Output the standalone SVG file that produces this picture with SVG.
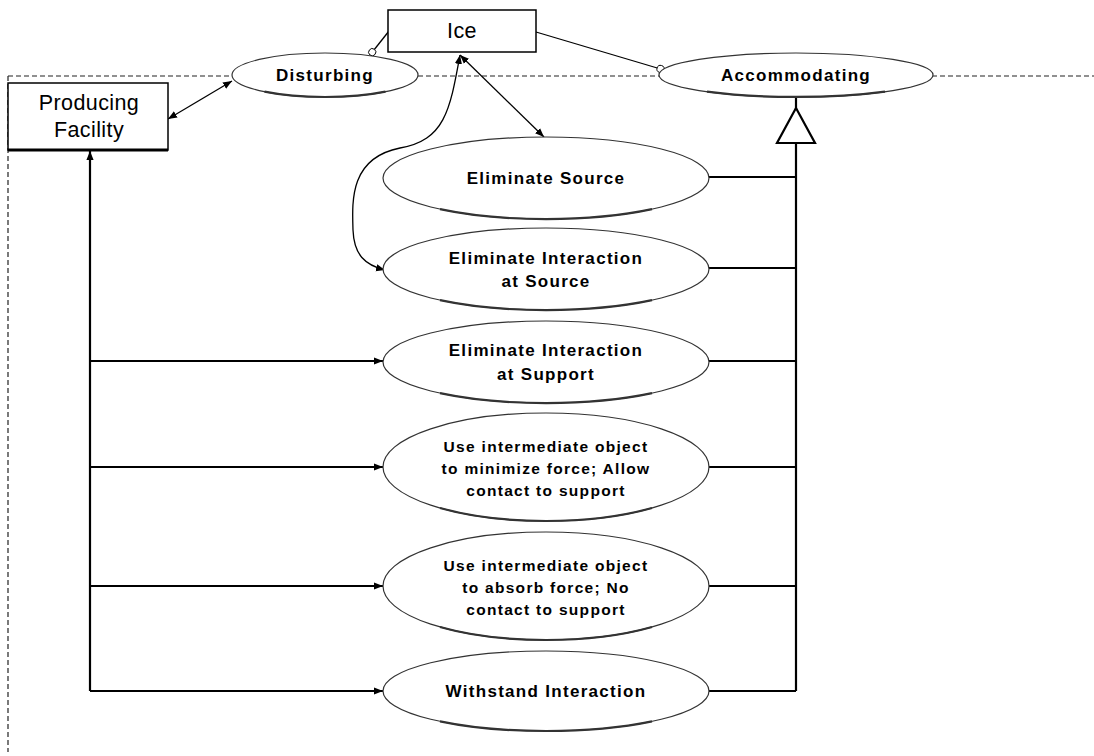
<svg xmlns="http://www.w3.org/2000/svg" width="1094" height="756" viewBox="0 0 1094 756">
  <style>
    .box { fill: #fff; stroke: #000; stroke-width: 1.5; }
    .uc { fill: #fff; stroke: #333; stroke-width: 1.2; }
    .shade { fill: none; stroke: #333; stroke-width: 2.2; }
    .t { font-family: "Liberation Sans", Arial, sans-serif; fill: #000; text-anchor: middle; }
    .big { font-size: 21.5px; letter-spacing: 0.4px; }
    .mid { font-size: 17px; font-weight: bold; letter-spacing: 1.3px; }
    .sm { font-size: 15.5px; font-weight: bold; letter-spacing: 1.3px; }
    .dash { fill: none; stroke: #222; stroke-width: 1.2; stroke-dasharray: 5 3; }
    .thin { fill: none; stroke: #000; stroke-width: 1.3; }
    .thick { fill: none; stroke: #000; stroke-width: 2.2; }
  </style>
  <defs>
    <marker id="ah" viewBox="0 0 10 10" refX="10" refY="5" markerWidth="9" markerHeight="9" markerUnits="userSpaceOnUse" orient="auto-start-reverse">
      <path d="M0,1 L10,5 L0,9 Z" fill="#000"/>
    </marker>
    <marker id="ball" viewBox="0 0 10 10" refX="9" refY="5" markerWidth="9" markerHeight="9" markerUnits="userSpaceOnUse" orient="auto">
      <circle cx="5" cy="5" r="4" fill="#fff" stroke="#000" stroke-width="1"/>
    </marker>
  </defs>

  <!-- system boundary -->
  <g id="boundary">
    <path class="dash" d="M8,76 L232,76 M418,76 L659,76 M932,76 L1094,76 M8,76 L8,752"/>
  </g>

  <!-- connectors -->
  <g id="connectors">
    <path class="thin" d="M168,119 L232,81" marker-start="url(#ah)" marker-end="url(#ah)"/>
    <path class="thin" d="M389,31 L370,55" marker-end="url(#ball)"/>
    <path class="thin" d="M536,32 L664,70" marker-end="url(#ball)"/>
    <path class="thin" d="M460,55 L544,137" marker-start="url(#ah)" marker-end="url(#ah)"/>
    <path class="thin" d="M460,55 C450,110 445,140 400,148 C350,158 352,200 353,230 C354,255 365,265 385,270" marker-start="url(#ah)" marker-end="url(#ah)"/>
    <!-- generalization to Accommodating -->
    <path class="thick" d="M796,97 L796,110"/>
    <path d="M796,108 L777,143 L815,143 Z" fill="#fff" stroke="#000" stroke-width="2.2"/>
    <path class="thick" d="M796,143 L796,691"/>
    <path class="thick" d="M708,177 L796,177 M708,268 L796,268 M708,361 L796,361 M708,467 L796,467 M708,586 L796,586 M708,691 L796,691"/>
    <!-- Producing Facility links -->
    <path class="thick" d="M90,691 L90,151" marker-end="url(#ah)"/>
    <path class="thick" d="M90,361 L383,361" marker-end="url(#ah)"/>
    <path class="thick" d="M90,467 L383,467" marker-end="url(#ah)"/>
    <path class="thick" d="M90,586 L383,586" marker-end="url(#ah)"/>
    <path class="thick" d="M90,691 L383,691" marker-end="url(#ah)"/>
  </g>

  <g id="ice">
    <rect class="box" x="388" y="10" width="148" height="42"/>
    <text class="t big" x="462" y="38">Ice</text>
  </g>

  <g id="producing-facility">
    <rect class="box" x="8" y="83" width="160" height="67"/>
    <path d="M8,150 L168,150" stroke="#000" stroke-width="3"/>
    <text class="t big" x="89" y="110">Producing</text>
    <text class="t big" x="89" y="137">Facility</text>
  </g>

  <g id="disturbing">
    <ellipse class="uc" cx="325" cy="75" rx="93" ry="22"/>
    <path class="shade" d="M264.5,91.7 A93 22 0 0 0 385.5,91.7"/>
    <text class="t mid" x="325" y="81">Disturbing</text>
  </g>

  <g id="accommodating">
    <ellipse class="uc" cx="796" cy="75" rx="137" ry="22"/>
    <path class="shade" d="M707,91.7 A137 22 0 0 0 885,91.7"/>
    <text class="t mid" x="796" y="81">Accommodating</text>
  </g>

  <g id="eliminate-source">
    <ellipse class="uc" cx="546" cy="178" rx="163" ry="41"/>
    <path class="shade" d="M440,209.2 A163 41 0 0 0 652,209.2"/>
    <text class="t mid" x="546" y="184">Eliminate Source</text>
  </g>

  <g id="eliminate-interaction-source">
    <ellipse class="uc" cx="546" cy="269" rx="163" ry="41"/>
    <path class="shade" d="M440,300.2 A163 41 0 0 0 652,300.2"/>
    <text class="t mid" x="546" y="264">Eliminate Interaction</text>
    <text class="t mid" x="546" y="287">at Source</text>
  </g>

  <g id="eliminate-interaction-support">
    <ellipse class="uc" cx="546" cy="362" rx="163" ry="41"/>
    <path class="shade" d="M440,393.2 A163 41 0 0 0 652,393.2"/>
    <text class="t mid" x="546" y="356">Eliminate Interaction</text>
    <text class="t mid" x="546" y="380">at Support</text>
  </g>

  <g id="minimize-force">
    <ellipse class="uc" cx="546" cy="467" rx="163" ry="54"/>
    <path class="shade" d="M440,508 A163 54 0 0 0 652,508"/>
    <text class="t sm" x="546" y="452">Use intermediate object</text>
    <text class="t sm" x="546" y="474">to minimize force; Allow</text>
    <text class="t sm" x="546" y="496">contact to support</text>
  </g>

  <g id="absorb-force">
    <ellipse class="uc" cx="546" cy="586" rx="163" ry="54"/>
    <path class="shade" d="M440,627 A163 54 0 0 0 652,627"/>
    <text class="t sm" x="546" y="571">Use intermediate object</text>
    <text class="t sm" x="546" y="593">to absorb force; No</text>
    <text class="t sm" x="546" y="615">contact to support</text>
  </g>

  <g id="withstand">
    <ellipse class="uc" cx="546" cy="691" rx="163" ry="40"/>
    <path class="shade" d="M440,721.4 A163 40 0 0 0 652,721.4"/>
    <text class="t mid" x="546" y="697">Withstand Interaction</text>
  </g>
</svg>
